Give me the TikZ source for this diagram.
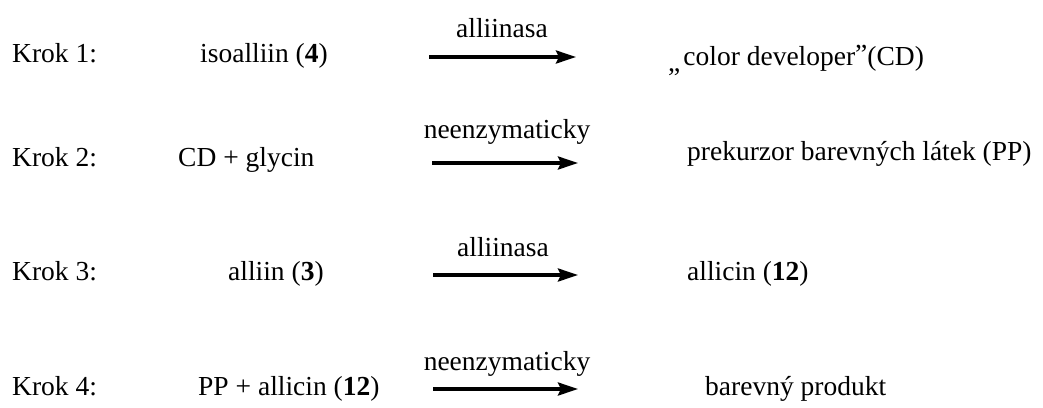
\documentclass[tikz,border=0pt]{standalone}
\usepackage{fontspec}
\setmainfont{Liberation Serif}
\usetikzlibrary{arrows.meta}
\begin{document}
\begin{tikzpicture}[x=1pt,y=-1pt,
  txt/.style={inner sep=0pt,anchor=base west,font=\fontsize{27.5}{33}\selectfont},
  lbl/.style={inner sep=0pt,anchor=base,font=\fontsize{27.5}{33}\selectfont},
  rxn/.style={line width=3.3pt,-{Stealth[length=20pt,width=13pt,inset=3pt]}}]
\useasboundingbox (0,0) rectangle (1043,407);
% row 1
\node[txt] (k1) at (12,62) {Krok 1:};
\node[txt] (a1) at (200,62) {isoalliin (\textbf{4})};
\node[txt] (b1) at (668,65) {\raisebox{-6pt}{„}\hspace{3pt}color developer\raisebox{2pt}{"}(CD)};
\coordinate (s1) at (429,57); \coordinate (e1) at (576,57);
\draw[rxn] (s1) -- (e1);
\node[lbl] (l1) at (502,37) {alliinasa};
% row 2
\node[txt] (k2) at (12,166) {Krok 2:};
\node[txt] (a2) at (178,166) {CD + glycin};
\node[txt] (b2) at (687,160) {prekurzor barevných látek (PP)};
\coordinate (s2) at (432,163); \coordinate (e2) at (578,163);
\draw[rxn] (s2) -- (e2);
\node[lbl] (l2) at (507,138) {neenzymaticky};
% row 3
\node[txt] (k3) at (12,280) {Krok 3:};
\node[txt] (a3) at (228,280) {alliin (\textbf{3})};
\node[txt] (b3) at (687,280) {allicin (\textbf{12})};
\coordinate (s3) at (433,275); \coordinate (e3) at (578,275);
\draw[rxn] (s3) -- (e3);
\node[lbl] (l3) at (503,256) {alliinasa};
% row 4
\node[txt] (k4) at (12,395) {Krok 4:};
\node[txt] (a4) at (198,395) {PP + allicin (\textbf{12})};
\node[txt] (b4) at (705,395) {barevný produkt};
\coordinate (s4) at (433,389); \coordinate (e4) at (578,389);
\draw[rxn] (s4) -- (e4);
\node[lbl] (l4) at (507,370) {neenzymaticky};
\end{tikzpicture}
\end{document}
